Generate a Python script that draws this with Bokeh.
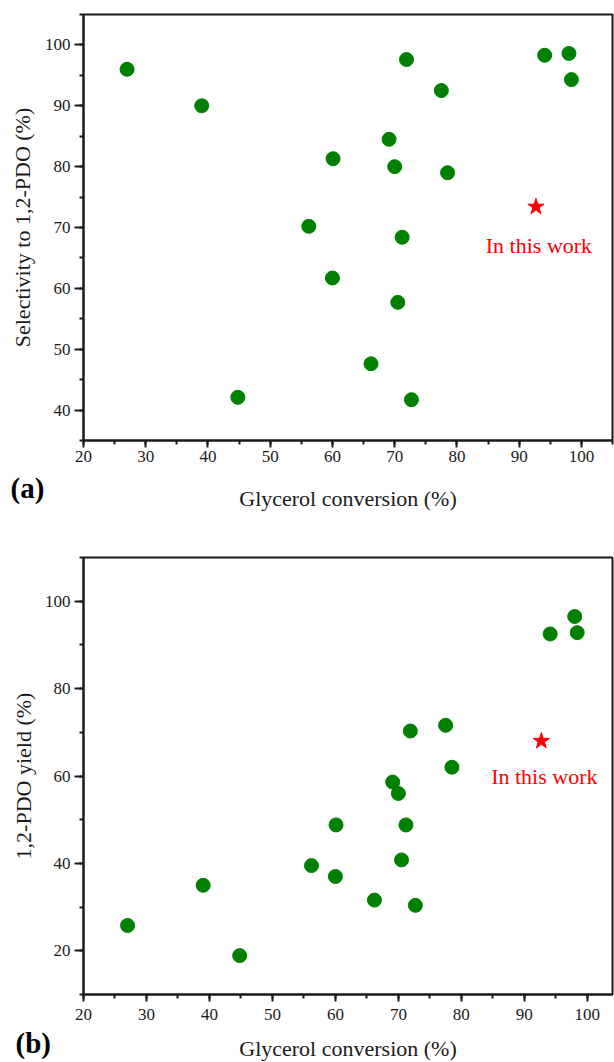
from bokeh.plotting import figure
from bokeh.layouts import column
from bokeh.models import ColumnDataSource, Range1d, SingleIntervalTicker, Title
from bokeh.embed import file_html
from bokeh.resources import INLINE
from bokeh.core.properties import value

# Literature catalysts: glycerol conversion (%), 1,2-PDO selectivity (%) and yield (%)
conversion = [27.0, 39.0, 44.8, 56.2, 60.0, 60.1, 66.2, 69.1, 70.0, 70.5,
              71.2, 71.9, 72.7, 77.5, 78.5, 94.1, 98.0, 98.4]
selectivity = [96.0, 90.0, 42.1, 70.2, 61.7, 81.3, 47.6, 84.5, 80.0, 57.7,
               68.4, 97.6, 41.7, 92.5, 79.0, 98.3, 98.6, 94.3]
pdo_yield = [25.8, 35.0, 18.9, 39.5, 37.0, 48.8, 31.6, 58.6, 56.0, 40.8,
             48.8, 70.3, 30.4, 71.6, 62.0, 92.5, 96.5, 92.8]

# Present catalyst
work_conversion = [92.7]
work_selectivity = [73.4]
work_yield = [68.0]
work_label = ["In this work"]

x_title = "Glycerol conversion (%)"

FONT = "Liberation Serif"
GREEN = "#008000"
RED = "#ff0000"
INK = "#1a1a1a"


def style_axes(p, ylabel, y_interval):
    p.xaxis.ticker = SingleIntervalTicker(interval=10, num_minor_ticks=2)
    p.yaxis.ticker = SingleIntervalTicker(interval=y_interval, num_minor_ticks=2)
    p.yaxis.axis_label = ylabel
    for ax in (p.xaxis[0], p.yaxis[0]):
        ax.axis_line_width = 2
        ax.axis_line_color = INK
        ax.major_tick_line_width = 2
        ax.minor_tick_line_width = 2
        ax.major_tick_line_color = INK
        ax.minor_tick_line_color = INK
        ax.major_tick_in = 0
        ax.minor_tick_in = 0
        ax.major_label_text_font = FONT
        ax.major_label_text_font_size = "17px"
        ax.major_label_text_color = INK
        ax.axis_label_text_font = FONT
        ax.axis_label_text_font_size = "22px"
        ax.axis_label_text_font_style = "normal"
        ax.axis_label_text_color = INK
    p.xaxis.major_tick_out = 7
    p.xaxis.minor_tick_out = 4
    p.yaxis.major_tick_out = 9
    p.yaxis.minor_tick_out = 4
    p.grid.visible = False
    p.outline_line_color = INK
    p.outline_line_width = 2
    p.background_fill_color = "white"
    p.border_fill_color = "white"


def add_bottom_texts(p, tag, tag_offset, gap, tag_standoff):
    # blank x-axis label used only as vertical spacing below the tick labels
    p.xaxis.axis_label = " "
    p.xaxis.axis_label_text_font_size = "1px"
    p.xaxis.axis_label_standoff = gap
    # panel tag on the left, then the x-axis title centred under the frame
    p.add_layout(Title(text=tag, align="left", vertical_align="top",
                       offset=tag_offset, standoff=tag_standoff,
                       text_font=FONT, text_font_size="29px",
                       text_font_style="bold", text_color="black"), "below")
    p.add_layout(Title(text=x_title, align="center", vertical_align="top",
                       standoff=-24, text_font=FONT, text_font_size="22px",
                       text_font_style="normal", text_color=INK), "below")


# (a) selectivity vs conversion
pa = figure(width=614, height=515, output_backend="svg", toolbar_location=None,
            x_range=Range1d(20, 105), y_range=Range1d(35, 105),
            min_border_left=83, min_border_right=2, min_border_top=14, min_border_bottom=75)
style_axes(pa, "Selectivity to 1,2-PDO (%)", 10)
pa.xaxis.major_label_standoff = 3
pa.yaxis.major_label_standoff = 4
pa.yaxis.axis_label_standoff = 7
add_bottom_texts(pa, "(a)", -73, 12, -17)

src_a = ColumnDataSource(dict(x=conversion, y=selectivity))
pa.scatter("x", "y", source=src_a, size=14, marker="circle",
           fill_color=GREEN, line_color=GREEN)
work_a = ColumnDataSource(dict(x=work_conversion, y=work_selectivity, t=work_label))
pa.scatter("x", "y", source=work_a, size=17, marker="star",
           fill_color=RED, line_color=RED)
pa.text("x", "y", text="t", source=work_a, x_offset=3, y_offset=39,
        text_align="center", text_baseline="alphabetic",
        text_font=value(FONT), text_font_size="22px", text_color=RED)

# (b) yield vs conversion
pb = figure(width=614, height=547, output_backend="svg", toolbar_location=None,
            x_range=Range1d(20, 104), y_range=Range1d(10, 110),
            min_border_left=78, min_border_right=1, min_border_top=42, min_border_bottom=68)
style_axes(pb, "1,2-PDO yield (%)", 20)
pb.xaxis.major_label_standoff = 7
pb.yaxis.major_label_standoff = 4
pb.yaxis.axis_label_standoff = 6
add_bottom_texts(pb, "(b)", -68, 13, -26)

src_b = ColumnDataSource(dict(x=conversion, y=pdo_yield))
pb.scatter("x", "y", source=src_b, size=14, marker="circle",
           fill_color=GREEN, line_color=GREEN)
work_b = ColumnDataSource(dict(x=work_conversion, y=work_yield, t=work_label))
pb.scatter("x", "y", source=work_b, size=17, marker="star",
           fill_color=RED, line_color=RED)
pb.text("x", "y", text="t", source=work_b, x_offset=3, y_offset=35,
        text_align="center", text_baseline="alphabetic",
        text_font=value(FONT), text_font_size="22px", text_color=RED)

layout = column(pa, pb, spacing=0)
open("out.html", "w").write(file_html(layout, INLINE))
